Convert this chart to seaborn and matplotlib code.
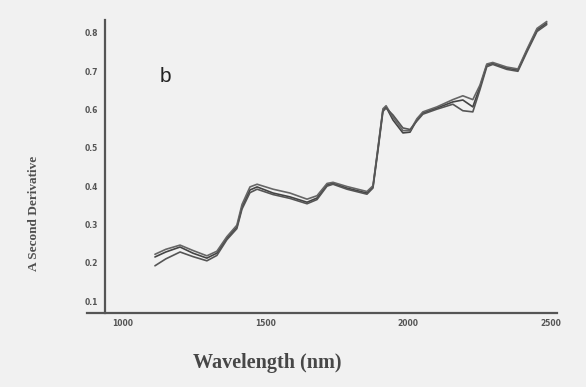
import numpy as np
import pandas as pd
import matplotlib
matplotlib.use("Agg")
import matplotlib.pyplot as plt
import seaborn as sns

# Wavelength (nm)
wavelength = [1112, 1150, 1200, 1245, 1294, 1329, 1364, 1399, 1417, 1445, 1470,
              1526, 1585, 1645, 1680, 1715, 1736, 1785, 1855, 1876, 1893, 1911,
              1922, 1946, 1981, 2006, 2030, 2051, 2100, 2156, 2191, 2226, 2251,
              2275, 2296, 2345, 2384, 2416, 2451, 2485]

spectrum_1 = [0.215, 0.228, 0.241, 0.225, 0.212, 0.225, 0.264, 0.293, 0.345, 0.390, 0.398,
              0.382, 0.372, 0.358, 0.369, 0.403, 0.408, 0.395, 0.382, 0.398, 0.494, 0.599,
              0.607, 0.573, 0.539, 0.541, 0.573, 0.591, 0.604, 0.620, 0.625, 0.607, 0.659,
              0.716, 0.721, 0.708, 0.703, 0.755, 0.808, 0.826]

spectrum_2 = [0.222, 0.235, 0.246, 0.232, 0.218, 0.230, 0.268, 0.298, 0.352, 0.398, 0.405,
              0.392, 0.382, 0.366, 0.375, 0.407, 0.410, 0.399, 0.386, 0.401, 0.497, 0.602,
              0.610, 0.580, 0.545, 0.545, 0.576, 0.594, 0.607, 0.626, 0.636, 0.626, 0.664,
              0.719, 0.723, 0.711, 0.706, 0.758, 0.812, 0.830]

spectrum_3 = [0.192, 0.210, 0.228, 0.216, 0.205, 0.219, 0.260, 0.289, 0.340, 0.383, 0.392,
              0.378, 0.368, 0.354, 0.365, 0.400, 0.405, 0.392, 0.379, 0.395, 0.490, 0.595,
              0.604, 0.586, 0.552, 0.548, 0.570, 0.588, 0.601, 0.614, 0.597, 0.594, 0.652,
              0.712, 0.718, 0.705, 0.700, 0.751, 0.804, 0.822]

x_ticks = [1000, 1500, 2000, 2500]
y_ticks = [0.1, 0.2, 0.3, 0.4, 0.5, 0.6, 0.7, 0.8]

df = pd.DataFrame({
    "wavelength": wavelength * 3,
    "value": spectrum_1 + spectrum_2 + spectrum_3,
    "sample": ["1"] * len(wavelength) + ["2"] * len(wavelength) + ["3"] * len(wavelength),
})

sns.set_style("white")
bg = "#f1f1f1"
fig = plt.figure(figsize=(5.86, 3.87), dpi=100, facecolor=bg)
W, H = 586, 387
ax = fig.add_axes([87 / W, 1 - 313 / H, (557 - 87) / W, (313 - 20) / H])
ax.set_facecolor(bg)

sns.lineplot(data=df, x="wavelength", y="value", hue="sample",
             palette=["#444444", "#666666", "#555555"], linewidth=1.2,
             legend=False, ax=ax, estimator=None, sort=False)

px_per_nm = 142.7 / 500.0
ax.set_xlim(1000 - (123 - 87) / px_per_nm, 2500 + (557 - 551) / px_per_nm)
ax.set_ylim(0.1 - 12 / 383, 0.8 + 13 / 383)

ax.spines["left"].set_position(("data", 1000 - (123 - 105) / px_per_nm))
ax.spines["top"].set_visible(False)
ax.spines["right"].set_visible(False)
for s in ("left", "bottom"):
    ax.spines[s].set_color("#555555")
    ax.spines[s].set_linewidth(1.6)

ax.set_xticks(x_ticks)
ax.set_xticks(np.arange(1000, 2501, 100), minor=True)
ax.set_yticks(y_ticks)
ax.set_xticklabels([str(v) for v in x_ticks], fontweight="bold")
ax.set_yticklabels([f"{v:.1f}" for v in y_ticks], fontweight="bold")
ax.tick_params(axis="x", which="major", direction="inout", length=6, width=0.8,
               colors="#555555", labelsize=5.5, pad=1)
ax.tick_params(axis="x", which="minor", direction="in", length=2, width=0.6, colors="#888888")
ax.tick_params(axis="y", which="major", direction="out", length=3, width=0.8,
               colors="#555555", labelsize=5.5, pad=2)

ax.set_xlabel("")
ax.set_ylabel("")

fig.text(267 / W, 1 - 363 / H, "Wavelength (nm)", ha="center", va="center",
         fontsize=14.5, family="Liberation Serif", fontweight="bold", color="#474747")
fig.text(34 / W, 1 - 213 / H, "A Second Derivative", ha="center", va="center",
         rotation=90, fontsize=9.5, family="Liberation Serif", fontweight="bold", color="#505050")
fig.text(160 / W, 1 - 82 / H, "b", ha="left", va="baseline",
         fontsize=15, family="Liberation Sans", color="#222222")

fig.savefig("out.png", dpi=100, facecolor=bg)
